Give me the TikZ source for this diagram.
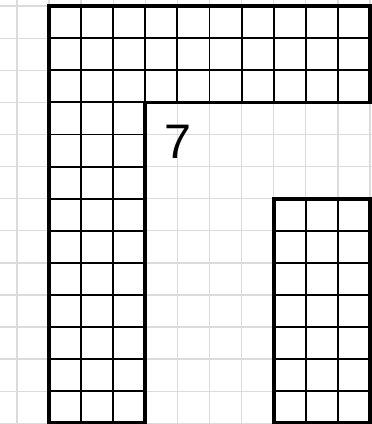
\documentclass[tikz,border=0pt]{standalone}
\usepackage{fontspec}
\setmainfont{Liberation Sans}
\begin{document}
\begin{tikzpicture}[x=1cm,y=1cm]
    \useasboundingbox (-1.527,-0.02) rectangle (10.06,13.19);
    \draw[line width=1.2pt, gray!28] (-1.527,-0.02) grid (10.06,13.19);
    \draw[line width=1.7pt] (0,10) grid (10,13);
    \draw[line width=1.7pt] (0,0) grid (3,10);
    \draw[line width=1.7pt] (7,0) grid (10,7);
    \draw[line width=3.3pt] (0,0) -- (0,13) -- (10,13) -- (10,10) -- (3,10) -- (3,0) -- cycle;
    \draw[line width=3.3pt] (7,0) rectangle (10,7);
    \node (seven) at (4.02,8.78) {\fontsize{43}{43}\selectfont 7};
  \end{tikzpicture}
\end{document}
